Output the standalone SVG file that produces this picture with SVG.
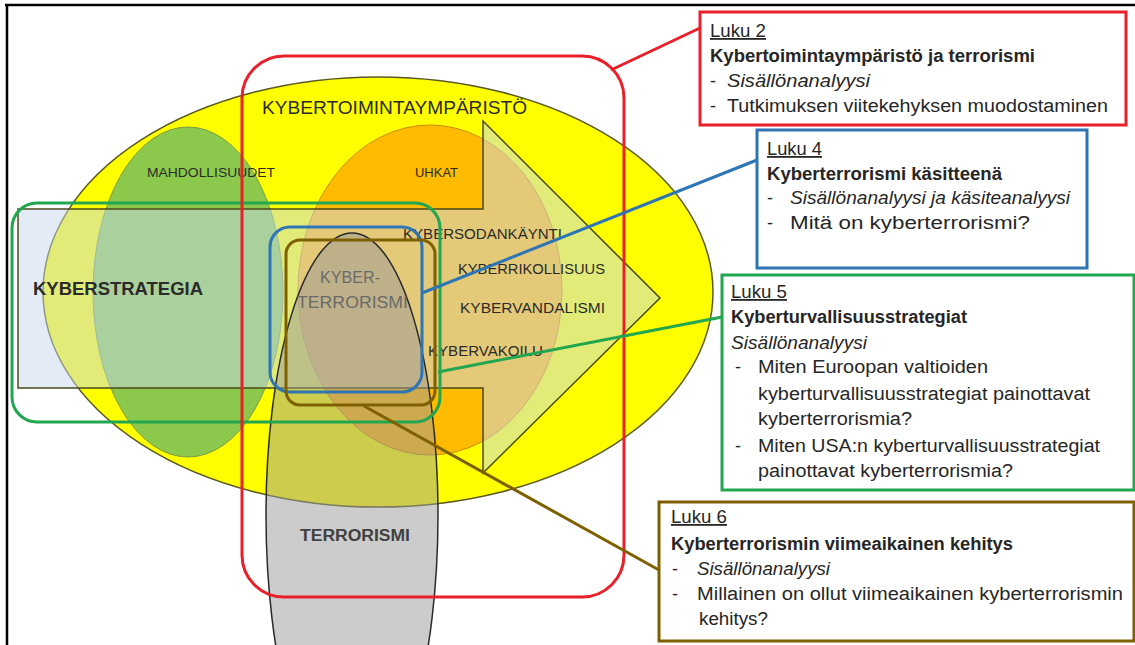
<svg xmlns="http://www.w3.org/2000/svg" width="1135" height="645" viewBox="0 0 1135 645">
<defs>
<style>
.lbl{font-family:"Liberation Sans",Arial,sans-serif;fill:#2b2b2b}
.bx{font-family:"Liberation Sans",Arial,sans-serif;fill:#262626;font-size:18px}
.b{font-weight:bold}
.i{font-style:italic}
.u{text-decoration:underline}
.frame{fill:#fff;stroke-width:3}
.conn{fill:none;stroke-width:3}
</style>
</defs>
<rect x="0" y="0" width="1135" height="645" fill="#fff"/>
<g id="frame" stroke="#000" stroke-width="2.5">
<line x1="5" y1="5" x2="1135" y2="5"/>
<line x1="7" y1="5" x2="7" y2="645"/>
</g>
<g id="kybertoimintaymparisto">
<ellipse cx="378" cy="292" rx="335" ry="215" fill="#ffff00" stroke="#5a5a20" stroke-width="1.5"/>
</g>
<g id="mahdollisuudet">
<ellipse cx="188" cy="292" rx="95" ry="165" fill="#8cc84b" stroke="#7a9a40" stroke-width="1"/>
</g>
<g id="uhkat">
<ellipse cx="430" cy="290" rx="132" ry="165" fill="#ffbb00" stroke="#c88a10" stroke-width="1"/>
</g>
<g id="kyberstrategia-arrow">
<polygon points="18,209 483,209 483,121 660,298 483,473 483,388 18,388" fill="rgb(200,215,240)" fill-opacity="0.5" stroke="#4a4a1a" stroke-width="1.5"/>
</g>
<g id="terrorismi">
<ellipse cx="352" cy="515" rx="86" ry="282" fill="#999" fill-opacity="0.5" stroke="#2a2a2a" stroke-width="1.5"/>
</g>
<g id="labels">
<text class="lbl" x="262" y="114" font-size="19" textLength="265" lengthAdjust="spacingAndGlyphs">KYBERTOIMINTAYMPÄRISTÖ</text>
<text class="lbl" x="147" y="177" font-size="13" textLength="128" lengthAdjust="spacingAndGlyphs">MAHDOLLISUUDET</text>
<text class="lbl" x="415" y="177" font-size="13" textLength="43" lengthAdjust="spacingAndGlyphs">UHKAT</text>
<text class="lbl" x="403" y="239" font-size="14" textLength="159" lengthAdjust="spacingAndGlyphs">KYBERSODANKÄYNTI</text>
<text class="lbl" x="458" y="274" font-size="14" textLength="147" lengthAdjust="spacingAndGlyphs">KYBERRIKOLLISUUS</text>
<text class="lbl" x="460" y="313" font-size="14" textLength="145" lengthAdjust="spacingAndGlyphs">KYBERVANDALISMI</text>
<text class="lbl" x="428" y="356" font-size="14" textLength="115" lengthAdjust="spacingAndGlyphs">KYBERVAKOILU</text>
<text class="lbl b" x="33" y="295" font-size="18" textLength="170" lengthAdjust="spacingAndGlyphs">KYBERSTRATEGIA</text>
<text class="lbl" x="320" y="283" font-size="16" style="fill:#6a6a6a" textLength="60" lengthAdjust="spacingAndGlyphs">KYBER-</text>
<text class="lbl" x="297" y="308" font-size="16" style="fill:#6a6a6a" textLength="111" lengthAdjust="spacingAndGlyphs">TERRORISMI</text>
<text class="lbl b" x="300" y="541" font-size="16" style="fill:#404040" textLength="110" lengthAdjust="spacingAndGlyphs">TERRORISMI</text>
</g>
<g id="frames">
<rect id="frame-luku5" x="12" y="203" width="428" height="219" rx="25" fill="none" stroke="#22a650" stroke-width="3"/>
<rect id="frame-luku4" x="270" y="227" width="152" height="165" rx="20" fill="none" stroke="#2e75b6" stroke-width="3"/>
<rect id="frame-luku6" x="286" y="240" width="149" height="165" rx="14" fill="none" stroke="#7f6000" stroke-width="3"/>
<rect id="frame-luku2" x="242" y="56" width="382" height="541" rx="42" fill="none" stroke="#e8202a" stroke-width="3"/>
</g>
<g id="connectors">
<line class="conn" x1="611" y1="70" x2="700" y2="28" stroke="#e8202a"/>
<line class="conn" x1="422" y1="293" x2="757" y2="160" stroke="#2e75b6"/>
<line class="conn" x1="438" y1="372" x2="722" y2="317" stroke="#22a650"/>
<line class="conn" x1="364" y1="406" x2="659" y2="570" stroke="#7f6000"/>
</g>
<g id="luku2">
<rect class="frame" x="700" y="12" width="426" height="113" stroke="#e8202a"/>
<text class="bx u" x="710" y="37" textLength="56" lengthAdjust="spacingAndGlyphs">Luku 2</text>
<text class="bx b" x="710" y="62" textLength="325" lengthAdjust="spacingAndGlyphs">Kybertoimintaympäristö ja terrorismi</text>
<text class="bx" x="710" y="87">-</text>
<text class="bx i" x="727" y="87" textLength="143" lengthAdjust="spacingAndGlyphs">Sisällönanalyysi</text>
<text class="bx" x="710" y="112">-</text>
<text class="bx" x="727" y="112" textLength="381" lengthAdjust="spacingAndGlyphs">Tutkimuksen viitekehyksen muodostaminen</text>
</g>
<g id="luku4">
<rect class="frame" x="757" y="130" width="330" height="138" stroke="#2e75b6"/>
<text class="bx u" x="767" y="155" textLength="55" lengthAdjust="spacingAndGlyphs">Luku 4</text>
<text class="bx b" x="767" y="180" textLength="235" lengthAdjust="spacingAndGlyphs">Kyberterrorismi käsitteenä</text>
<text class="bx" x="767" y="204">-</text>
<text class="bx i" x="790" y="204" textLength="280" lengthAdjust="spacingAndGlyphs">Sisällönanalyysi ja käsiteanalyysi</text>
<text class="bx" x="767" y="229">-</text>
<text class="bx" x="790" y="229" textLength="240" lengthAdjust="spacingAndGlyphs">Mitä on kyberterrorismi?</text>
</g>
<g id="luku5">
<rect class="frame" x="722" y="275" width="412" height="215" stroke="#22a650"/>
<text class="bx u" x="731" y="298" textLength="56" lengthAdjust="spacingAndGlyphs">Luku 5</text>
<text class="bx b" x="731" y="323" textLength="236" lengthAdjust="spacingAndGlyphs">Kyberturvallisuusstrategiat</text>
<text class="bx i" x="731" y="349" textLength="136" lengthAdjust="spacingAndGlyphs">Sisällönanalyysi</text>
<text class="bx" x="735" y="373">-</text>
<text class="bx" x="758" y="373" textLength="230" lengthAdjust="spacingAndGlyphs">Miten Euroopan valtioiden</text>
<text class="bx" x="758" y="400" textLength="332" lengthAdjust="spacingAndGlyphs">kyberturvallisuusstrategiat painottavat</text>
<text class="bx" x="758" y="425" textLength="154" lengthAdjust="spacingAndGlyphs">kyberterrorismia?</text>
<text class="bx" x="735" y="452">-</text>
<text class="bx" x="758" y="452" textLength="342" lengthAdjust="spacingAndGlyphs">Miten USA:n kyberturvallisuusstrategiat</text>
<text class="bx" x="758" y="477" textLength="255" lengthAdjust="spacingAndGlyphs">painottavat kyberterrorismia?</text>
</g>
<g id="luku6">
<rect class="frame" x="659" y="502" width="475" height="139" stroke="#7f6000"/>
<text class="bx u" x="671" y="523" textLength="56" lengthAdjust="spacingAndGlyphs">Luku 6</text>
<text class="bx b" x="671" y="550" textLength="342" lengthAdjust="spacingAndGlyphs">Kyberterrorismin viimeaikainen kehitys</text>
<text class="bx" x="672" y="575">-</text>
<text class="bx i" x="697" y="575" textLength="133" lengthAdjust="spacingAndGlyphs">Sisällönanalyysi</text>
<text class="bx" x="672" y="600">-</text>
<text class="bx" x="697" y="600" textLength="426" lengthAdjust="spacingAndGlyphs">Millainen on ollut viimeaikainen kyberterrorismin</text>
<text class="bx" x="699" y="625" textLength="69" lengthAdjust="spacingAndGlyphs">kehitys?</text>
</g>
</svg>
